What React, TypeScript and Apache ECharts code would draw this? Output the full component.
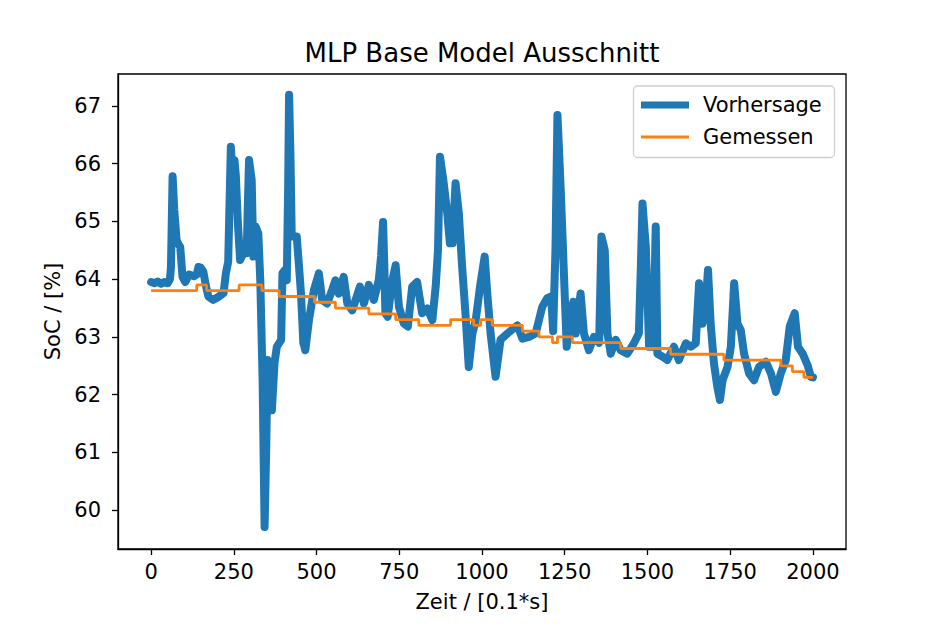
import React, { useEffect, useRef } from "react";
import * as echarts from "echarts";

const predX = [0,10,20,30,40,50,57,60,65,70,77,83,88,95,103,115,130,138,143,150,158,165,173,188,205,219,226,233,241,245,249,252,256,262,269,279,289,292,296,304,309,316,324,330,337,343,348,352,357,365,373,380,393,397,403,410,414,417,421,425,440,446,453,460,466,477,492,507,517,532,547,557,567,582,593,608,618,631,643,658,673,688,695,701,705,708,715,729,739,749,764,776,789,804,819,835,850,860,867,873,883,895,903,911,920,930,940,950,960,971,981,994,1008,1016,1026,1041,1056,1077,1096,1107,1122,1142,1162,1182,1197,1209,1215,1222,1228,1233,1238,1246,1256,1263,1276,1283,1298,1308,1323,1338,1354,1361,1371,1379,1389,1404,1419,1439,1459,1474,1480,1485,1495,1505,1515,1520,1525,1530,1545,1560,1580,1595,1616,1631,1646,1656,1666,1675,1683,1691,1701,1711,1719,1727,1742,1752,1762,1772,1782,1792,1807,1822,1837,1858,1873,1888,1903,1918,1930,1945,1955,1969,1984,1994,2000];
const predY = [63.95,63.93,63.96,63.92,63.95,63.93,64.0,64.2,65.78,65.2,64.68,64.6,64.56,64.04,63.95,64.08,64.05,64.08,64.21,64.2,64.13,63.9,63.7,63.64,63.7,63.76,64.1,64.3,66.29,65.9,66.0,66.06,65.8,65.0,64.33,64.45,64.45,65.2,66.06,65.72,64.39,64.91,64.79,63.98,62.25,59.71,61.1,62.6,62.5,61.73,62.55,62.83,62.95,64.1,64.15,63.98,65.5,67.19,66.2,64.74,64.74,64.3,63.75,62.9,62.77,63.29,63.81,64.1,63.64,63.58,63.81,63.98,63.75,64.04,63.58,63.46,63.64,63.87,63.58,63.9,63.64,63.98,64.4,64.99,64.2,63.41,63.35,63.98,64.24,63.52,63.23,63.18,63.87,63.95,63.41,63.49,63.29,63.87,64.5,66.12,65.72,65.14,64.62,64.62,65.66,65.14,64.21,63.41,62.48,63.06,63.29,63.87,64.39,63.75,63.06,62.31,62.95,63.06,63.15,63.2,62.97,63.0,63.06,63.52,63.67,63.7,63.1,64.5,66.84,66.2,65.54,64.33,62.83,63.18,63.61,63.06,63.75,63.06,62.77,63.0,62.9,64.74,64.5,63.06,62.71,62.95,62.77,62.71,62.89,63.06,64.2,65.31,64.56,62.83,62.83,63.5,64.91,62.71,62.66,62.6,62.83,62.6,62.89,62.83,62.89,63.93,63.23,63.5,64.16,63.23,62.54,62.14,61.91,62.25,62.48,62.83,63.93,63.23,63.12,62.71,62.37,62.25,62.48,62.57,62.37,62.05,62.37,62.6,63.18,63.41,62.83,62.71,62.51,62.31,62.3];

const measX = [0,138,168,266,335,387,494,557,658,739,809,905,975,996,1031,1122,1172,1213,1228,1273,1419,1570,1731,1903,1938,1973,2000];
const measY = [63.8,63.9,63.8,63.9,63.8,63.7,63.6,63.5,63.4,63.3,63.2,63.3,63.2,63.3,63.2,63.1,63.0,62.9,63.0,62.9,62.8,62.7,62.6,62.5,62.4,62.3,62.3];

const xTicks = [0,250,500,750,1000,1250,1500,1750,2000];
const yTicks = [60,61,62,63,64,65,66,67];

const titleText = "MLP Base Model Ausschnitt";
const xName = "Zeit / [0.1*s]";
const yName = "SoC / [%]";
const seriesNames = ["Vorhersage", "Gemessen"];

const FONT = "DejaVu Sans";
const BLUE = "#1f77b4";
const ORANGE = "#ff7f0e";
const FS = 21;

export default function App() {
  const ref = useRef<HTMLDivElement>(null);
  useEffect(() => {
    if (!ref.current) return;
    const chart = echarts.init(ref.current, null, { renderer: "svg" });
    const pred = predX.map((x, i) => [x, predY[i]]);
    const meas = measX.map((x, i) => [x, measY[i]]);
    chart.setOption({
      animation: false,
      backgroundColor: "#ffffff",
      grid: {
        left: 118,
        right: 94,
        top: 74,
        bottom: 78,
        show: true,
        borderColor: "#000",
        borderWidth: 1.3,
        backgroundColor: "transparent",
      },
      xAxis: {
        type: "value",
        min: -100,
        max: 2100,
        name: xName,
        nameLocation: "middle",
        nameGap: 42,
        nameTextStyle: { fontFamily: FONT, fontSize: FS, color: "#000" },
        axisLine: { show: true, onZero: false, lineStyle: { color: "#000", width: 1.3 } },
        axisTick: { show: true, length: 6, lineStyle: { color: "#000", width: 1.3 }, customValues: xTicks },
        axisLabel: {
          fontFamily: FONT,
          fontSize: FS,
          color: "#000",
          margin: 12,
          customValues: xTicks,
          formatter: (v: number) => String(v),
        },
        splitLine: { show: false },
      },
      yAxis: {
        type: "value",
        min: 59.33,
        max: 67.55,
        name: yName,
        nameLocation: "middle",
        nameGap: 54,
        nameRotate: 90,
        nameTextStyle: { fontFamily: FONT, fontSize: FS, color: "#000" },
        axisLine: { show: true, onZero: false, lineStyle: { color: "#000", width: 1.3 } },
        axisTick: { show: true, length: 6, lineStyle: { color: "#000", width: 1.3 }, customValues: yTicks },
        axisLabel: {
          fontFamily: FONT,
          fontSize: FS,
          color: "#000",
          margin: 17,
          customValues: yTicks,
          formatter: (v: number) => String(v),
        },
        splitLine: { show: false },
      },
      series: [
        {
          name: seriesNames[0],
          type: "line",
          data: pred,
          showSymbol: false,
          symbol: "none",
          lineStyle: { color: BLUE, width: 8, join: "round", cap: "round" },
          itemStyle: { color: BLUE },
          z: 2,
        },
        {
          name: seriesNames[1],
          type: "line",
          data: meas,
          step: "end",
          showSymbol: false,
          symbol: "none",
          lineStyle: { color: ORANGE, width: 2.8 },
          itemStyle: { color: ORANGE },
          z: 3,
        },
      ],
      graphic: [
        {
          type: "text",
          x: 482,
          y: 53,
          style: {
            text: titleText,
            fontFamily: FONT,
            fontSize: 26,
            fill: "#000",
            textAlign: "center",
            textVerticalAlign: "middle",
          },
        },
        {
          type: "rect",
          shape: { x: 633.5, y: 86, width: 201, height: 71.5, r: 4 },
          style: { fill: "rgba(255,255,255,0.8)", stroke: "#d0d0d0", lineWidth: 1.3 },
          z: 10,
        },
        {
          type: "line",
          shape: { x1: 641, y1: 105, x2: 689, y2: 105 },
          style: { stroke: BLUE, lineWidth: 7 },
          z: 11,
        },
        {
          type: "line",
          shape: { x1: 641, y1: 137, x2: 689, y2: 137 },
          style: { stroke: ORANGE, lineWidth: 2.8 },
          z: 11,
        },
        {
          type: "text",
          x: 703,
          y: 105,
          style: { text: seriesNames[0], fontFamily: FONT, fontSize: FS, fill: "#000", textVerticalAlign: "middle" },
          z: 11,
        },
        {
          type: "text",
          x: 703,
          y: 137,
          style: { text: seriesNames[1], fontFamily: FONT, fontSize: FS, fill: "#000", textVerticalAlign: "middle" },
          z: 11,
        },
      ],
    });
    return () => chart.dispose();
  }, []);
  return <div ref={ref} style={{ position: "fixed", left: 0, top: 0, width: 940, height: 627 }} />;
}
